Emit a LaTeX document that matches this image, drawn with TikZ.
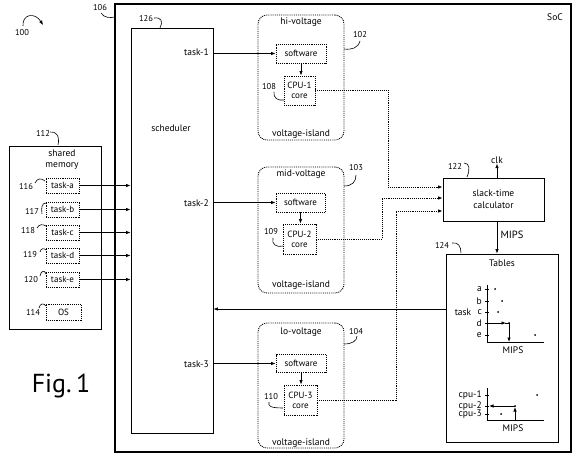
\documentclass[tikz,border=0pt]{standalone}
\usepackage{fontspec}
\setmainfont{PT Sans}
\usetikzlibrary{arrows.meta}
\begin{document}
\begin{tikzpicture}[x=1pt,y=-1pt,
  >={Latex[length=4.5pt,width=3.5pt]},
  every node/.style={inner sep=0pt, font=\fontsize{9}{10}\selectfont},
  solidbox/.style={draw, line width=0.8pt},
  dotbox/.style={draw, densely dotted, line width=0.9pt, align=center},
  island/.style={draw, densely dotted, line width=0.9pt, rounded corners=9pt},
  conn/.style={line width=0.7pt},
  dconn/.style={line width=0.9pt, densely dotted},
  lead/.style={line width=0.6pt},
  lbl/.style={font=\fontsize{9.5}{11}\selectfont},
  num/.style={font=\fontsize{8.5}{9}\selectfont},
]
\useasboundingbox (0,0) rectangle (576,457);

% SoC
\node[draw, line width=1.1pt, minimum width=456, minimum height=448] (soc) at (343,228) {};
\node[lbl] (soclbl) at (555,17) {SoC};
\node[num] (n106) at (100,8) {106};
\draw[lead] (101,13) .. controls (104,18) and (110,18) .. (115,17);
\node[num] (n100) at (22,33) {100};
\draw[lead,->] (23,26) .. controls (22,14) and (35,12) .. (43,25);

% scheduler
\node[draw, line width=0.9pt, minimum width=82, minimum height=405] (sched) at (172,230.5) {};
\node[lbl] (schedlbl) at (171,128) {scheduler};
\node[num] (n126) at (146,19) {126};
\draw[lead] (154,18) .. controls (162,17) and (163,22) .. (160,28);
\node[lbl, anchor=east] (t1) at (209,52) {task-1};
\node[lbl, anchor=east] (t2) at (209,203) {task-2};
\node[lbl, anchor=east] (t3) at (209,364) {task-3};

% islands
\node[island, minimum width=86, minimum height=125] (hi) at (301,77.5) {};
\node[lbl] (hilbl) at (301,22) {hi-voltage};
\node[lbl] (hivi) at (301,134) {voltage-island};
\node[dotbox, minimum width=50, minimum height=19] (soft1) at (301,53.5) {software};
\node[dotbox, minimum width=31, minimum height=29] (cpu1) at (299.5,90.5) {CPU-1\\core};
\node[num] (n102) at (360,35) {102};
\draw[lead] (344,49) .. controls (352,50) and (358,48) .. (360,41);
\node[num] (n108) at (269,87) {108};
\draw[lead] (274,92) .. controls (273,98) and (278,101) .. (284,100);

\node[island, minimum width=86, minimum height=126] (mid) at (301,230) {};
\node[lbl] (midlbl) at (301,174) {mid-voltage};
\node[lbl] (midvi) at (301,285) {voltage-island};
\node[dotbox, minimum width=49, minimum height=19] (soft2) at (300.5,202.5) {software};
\node[dotbox, minimum width=33, minimum height=30] (cpu2) at (299.5,239) {CPU-2\\core};
\node[num] (n103) at (356,168) {103};
\draw[lead] (344,186) .. controls (352,186) and (356,182) .. (356,175);
\node[num] (n109) at (271,232) {109};
\draw[lead] (273,238) .. controls (271,244) and (277,248) .. (283,246);

\node[island, minimum width=86, minimum height=125] (lo) at (301,385.5) {};
\node[lbl] (lolbl) at (301,332) {lo-voltage};
\node[lbl] (lovi) at (301,443) {voltage-island};
\node[dotbox, minimum width=50, minimum height=18] (soft3) at (301,363.5) {software};
\node[dotbox, minimum width=33, minimum height=30] (cpu3) at (300.5,400) {CPU-3\\core};
\node[num] (n104) at (356,332) {104};
\draw[lead] (344,344) .. controls (352,344) and (357,341) .. (357,336);
\node[num] (n110) at (271,397) {110};
\draw[lead] (269,402) .. controls (268,406) and (270,408) .. (283,408);

% task arrows
\draw[conn,->] (sched.east |- soft1.west) -- (soft1.west);
\draw[conn,->] (sched.east |- soft2.west) -- (soft2.west);
\draw[conn,->] (sched.east |- soft3.west) -- (soft3.west);
\draw[conn,->] (soft1.south) -- (soft1.south |- cpu1.north);
\draw[conn,->] (soft2.south) -- (soft2.south |- cpu2.north);
\draw[conn,->] (soft3.south) -- (soft3.south |- cpu3.north);

% slack-time calculator
\node[solidbox, minimum width=101, minimum height=43, align=center, font=\fontsize{9.5}{12}\selectfont] (calc) at (493.5,199.5) {slack-time\\calculator};
\node[lbl] (clk) at (497,160) {clk};
\draw[conn,->] (calc.north -| clk) -- (clk.south);
\node[num] (n122) at (455,166) {122};
\draw[lead] (464,163) .. controls (470,163) and (470,170) .. (467,177);

\draw[dconn,->] (cpu1.east) -| (388,187) -- ([yshift=12.5pt]calc.west);
\draw[dconn,->] (cpu2.east) -| (382,198) -- ([yshift=1.5pt]calc.west);
\draw[dconn,->] (cpu3.east) -| (396,211) -- ([yshift=-11.5pt]calc.west);

% Tables
\node[solidbox, minimum width=112, minimum height=188] (tables) at (502,348) {};
\node[lbl] (tabllbl) at (502,263) {Tables};
\node[num] (n124) at (442,245) {124};
\draw[lead] (452,243) .. controls (458,242) and (461,246) .. (461,253);
\draw[conn,->] ([xshift=3.5pt]calc.south) -- ([xshift=3.5pt]calc.south |- tables.north);
\node[font=\fontsize{10.5}{12}\selectfont] (mips) at (512,235) {MIPS};
\coordinate (fb) at ([yshift=39pt]tables.west);
\draw[conn,->] (fb) -- (fb -| sched.east);

% graph 1
\draw[conn] (487,285) -- (487,342) -- (544,342);
\foreach \yy/\tt in {289/a,301/b,312/c,323/d,335/e}{
  \draw[conn] (485,\yy) -- (489,\yy);
  \node[lbl, anchor=east] at (482,\yy) {\tt};
}
\node[lbl] (tasklbl) at (463,312) {task};
\fill (495,289) circle (1);
\fill (502,301) circle (1);
\fill (498,312) circle (1);
\fill (509,323) circle (1);
\fill (535,335) circle (1);
\draw[conn,->] (487,323) -- (506,323);
\draw[conn] (505,323) -- (509,323);
\draw[conn,->] (509,323) -- (509,342);
\node[lbl] (mips1) at (513,350) {MIPS};

% graph 2
\draw[conn] (487,388) -- (487,420) -- (544,420);
\foreach \yy/\tt in {395/cpu-1,406/cpu-2,414/cpu-3}{
  \draw[conn] (485,\yy) -- (489,\yy);
  \node[lbl, anchor=east] at (482,\yy) {\tt};
}
\fill (537,395) circle (1);
\fill (515,406) circle (1);
\fill (501,414) circle (1);
\draw[conn,->] (515,420) -- (515,407);
\draw[conn,->] (515,406) -- (489,406);
\node[lbl] (mips2) at (513,428) {MIPS};

% shared memory
\node[solidbox, minimum width=92, minimum height=183] (shm) at (55,237.5) {};
\node[lbl, align=center] (shmlbl) at (62,160) {shared\\memory};
\node[num] (n112) at (43,133) {112};
\draw[lead] (50,132) .. controls (56,131) and (60,136) .. (58,145);
\node[dotbox, minimum width=33, minimum height=15] (ta) at (62.5,185.5) {task-a};
\node[dotbox, minimum width=33, minimum height=15] (tb) at (62.5,209.5) {task-b};
\node[dotbox, minimum width=33, minimum height=15] (tc) at (62.5,232.5) {task-c};
\node[dotbox, minimum width=33, minimum height=15] (td) at (62.5,255.5) {task-d};
\node[dotbox, minimum width=33, minimum height=15] (te) at (62.5,279.5) {task-e};
\node[dotbox, minimum width=35, minimum height=16] (os) at (63.5,312) {OS};
\foreach \n in {ta,tb,tc,td,te}{
  \draw[conn,->] (\n.east) -- (\n.east -| sched.west);
}
\node[num] (n116) at (26,187) {116};
\draw[lead] (35,183) .. controls (37,178) and (42,178) .. (45,181);
\node[num] (n117) at (32,211) {117};
\draw[lead] (42,214) .. controls (41,207) and (42,203) .. (46,203);
\node[num] (n118) at (28,231) {118};
\draw[lead] (37,228) .. controls (39,224) and (43,224) .. (46,226);
\node[num] (n119) at (30,255) {119};
\draw[lead] (40,252) .. controls (41,248) and (44,248) .. (46,250);
\node[num] (n120) at (31,280) {120};
\draw[lead] (40,276) .. controls (41,270) and (45,270) .. (46,274);
\node[num] (n114) at (33,312) {114};
\draw[lead] (39,308) .. controls (40,303) and (44,303) .. (46,306);

% figure label
\node[font=\fontsize{26}{30}\selectfont] (fig) at (61,386) {Fig.\,1};
\end{tikzpicture}
\end{document}
